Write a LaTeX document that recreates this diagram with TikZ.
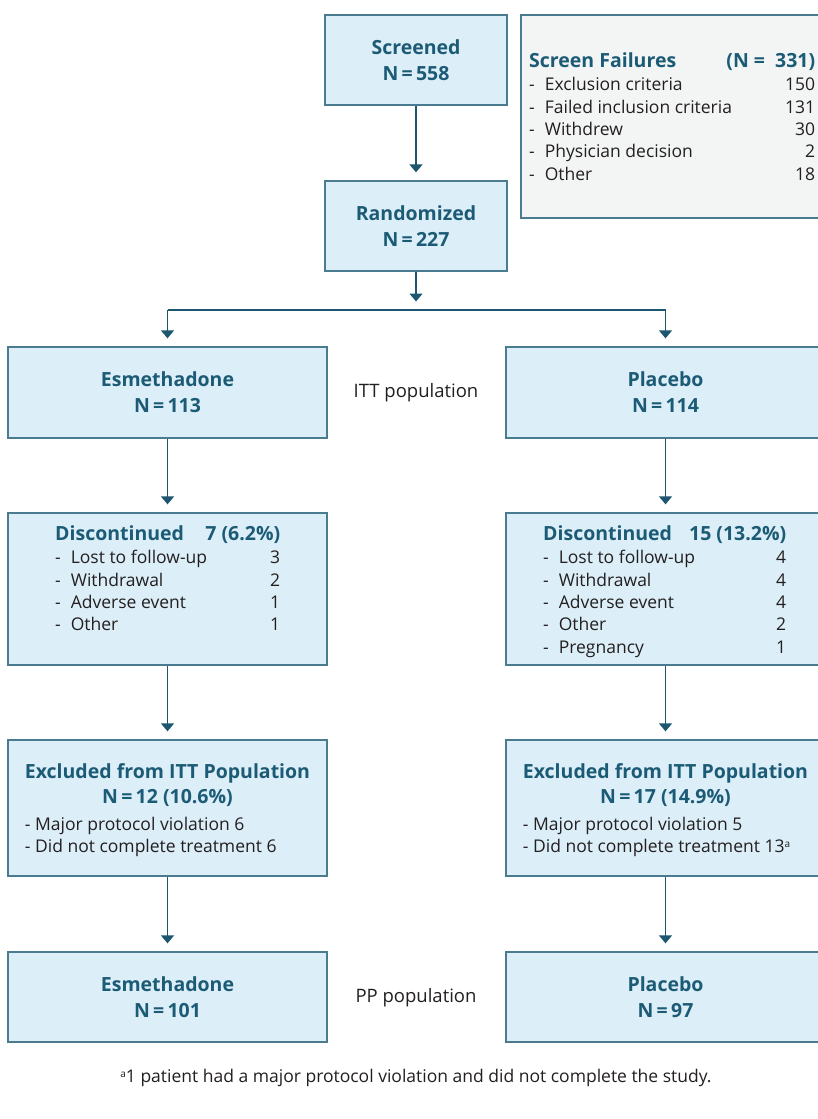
\documentclass[tikz,border=0pt]{standalone}
\usepackage{fontspec}
\setmainfont{Open Sans}
\usetikzlibrary{arrows.meta}
\definecolor{boxfill}{HTML}{DCEEF8}
\definecolor{boxdraw}{HTML}{4A7B8F}
\definecolor{ttl}{HTML}{1C5B75}
\definecolor{arrowc}{HTML}{1D566F}
\definecolor{grayfill}{HTML}{F3F5F5}
\definecolor{txt}{HTML}{231F20}
\newcommand\bigfont{\fontsize{19.5}{26}\selectfont\bfseries}
\newcommand\smallfont{\fontsize{17.5}{22.4}\selectfont}
\newcommand\hd[1]{\textcolor{ttl}{\fontsize{19.5}{22.4}\selectfont\bfseries #1}}
\newcommand\itm[1]{-\hspace{10pt}#1}
\newcommand\lrrow[3]{\makebox[#1]{#2\hfill #3}}
\newcommand\supa{\raisebox{0.55ex}{\fontsize{10}{10}\selectfont a}}
\tikzset{
  box/.style={draw=boxdraw, fill=boxfill, line width=1.3pt, inner sep=0pt, minimum width=319pt},
  smallbox/.style={box, minimum width=182pt, minimum height=90pt},
  title/.style={align=center, font=\bigfont, text=ttl},
  body/.style={inner sep=0pt, font=\smallfont, text=txt},
  conn/.style={draw=arrowc, line width=1.4pt},
  arr/.style={conn, -{Triangle[width=13pt,length=8pt]}, shorten >=8pt},
}
\begin{document}
\begin{tikzpicture}[x=1pt,y=-1pt]
\fill[white] (0,0) rectangle (818,1119);
\clip (0,0) rectangle (818,1119);

% top
\node[smallbox, title] (scr) at (416,60) {Screened\\N\,=\,558};
\node[box, fill=grayfill, minimum width=305pt, minimum height=203pt] (sf) at (673.5,116.5) {};
\node[body, anchor=base west] (sftext) at (529,67) {\begin{tabular}[t]{@{}l@{}}
\lrrow{286pt}{\hd{Screen Failures}}{\hd{(N =\ \ 331)}}\\[1.2pt]
\lrrow{286pt}{\itm{Exclusion criteria}}{150}\\
\lrrow{286pt}{\itm{Failed inclusion criteria}}{131}\\
\lrrow{286pt}{\itm{Withdrew}}{30}\\
\lrrow{286pt}{\itm{Physician decision}}{2}\\
\lrrow{286pt}{\itm{Other}}{18}
\end{tabular}};
\node[smallbox, title] (rnd) at (416,226) {Randomized\\N\,=\,227};

% ITT
\node[box, minimum height=91pt, title] (esm) at (167.5,392.5) {Esmethadone\\N\,=\,113};
\node[box, minimum height=91pt, title] (pla) at (665.5,392.5) {Placebo\\N\,=\,114};
\node[body, font=\fontsize{18.5}{22}\selectfont] (itt) at (416,393) {ITT population};

% discontinued
\node[box, minimum height=152pt] (disL) at (167.5,589) {};
\node[box, minimum height=152pt] (disR) at (665.5,589) {};
\node[body, anchor=base west] (disLt) at (55,540) {\begin{tabular}[t]{@{}l@{}}
\lrrow{225pt}{\hd{Discontinued}}{\hd{7 (6.2\%)}}\\[1.2pt]
\lrrow{225pt}{\itm{Lost to follow-up}}{3}\\
\lrrow{225pt}{\itm{Withdrawal}}{2}\\
\lrrow{225pt}{\itm{Adverse event}}{1}\\
\lrrow{225pt}{\itm{Other}}{1}
\end{tabular}};
\node[body, anchor=base west] (disRt) at (543,540) {\begin{tabular}[t]{@{}l@{}}
\lrrow{243pt}{\hd{Discontinued}}{\hd{15 (13.2\%)}}\\[1.2pt]
\lrrow{243pt}{\itm{Lost to follow-up}}{4}\\
\lrrow{243pt}{\itm{Withdrawal}}{4}\\
\lrrow{243pt}{\itm{Adverse event}}{4}\\
\lrrow{243pt}{\itm{Other}}{2}\\
\lrrow{243pt}{\itm{Pregnancy}}{1}
\end{tabular}};

% excluded
\node[box, minimum height=136pt] (excL) at (167.5,808) {};
\node[box, minimum height=136pt] (excR) at (665.5,808) {};
\node[body] (excLt) at (167.5,811) {\begin{tabular}{@{}l@{}}
\multicolumn{1}{@{}c@{}}{\hd{Excluded from ITT Population}}\\[2.6pt]
\multicolumn{1}{@{}c@{}}{\hd{N\,=\,12 (10.6\%)}}\\[4.6pt]
- Major protocol violation 6\\
- Did not complete treatment 6
\end{tabular}};
\node[body] (excRt) at (665.5,811) {\begin{tabular}{@{}l@{}}
\multicolumn{1}{@{}c@{}}{\hd{Excluded from ITT Population}}\\[2.6pt]
\multicolumn{1}{@{}c@{}}{\hd{N\,=\,17 (14.9\%)}}\\[4.6pt]
- Major protocol violation 5\\
- Did not complete treatment 13\supa
\end{tabular}};

% PP
\node[box, minimum height=90pt, title] (ppL) at (167.5,997) {Esmethadone\\N\,=\,101};
\node[box, minimum height=90pt, title] (ppR) at (665.5,997) {Placebo\\N\,=\,97};
\node[body, font=\fontsize{18.5}{22}\selectfont] (pp) at (416,998) {PP population};

% footnote
\node[body] (fn) at (416,1078) {\supa 1 patient had a major protocol violation and did not complete the study.};

% connectors
\coordinate (split) at (416,310);
\coordinate (splitL) at (167.5,310);
\coordinate (splitR) at (665.5,310);
\draw[arr] (scr.south) -- (rnd.north);
\draw[arr, shorten >=8.5pt] (rnd.south) -- (split);
\draw[conn] (splitL) -- (splitR);
\draw[arr] (splitL) -- (esm.north);
\draw[arr] (splitR) -- (pla.north);
\draw[arr] (esm.south) -- (disL.north);
\draw[arr] (pla.south) -- (disR.north);
\draw[arr] (disL.south) -- (excL.north);
\draw[arr] (disR.south) -- (excR.north);
\draw[arr] (excL.south) -- (ppL.north);
\draw[arr] (excR.south) -- (ppR.north);
\end{tikzpicture}
\end{document}
